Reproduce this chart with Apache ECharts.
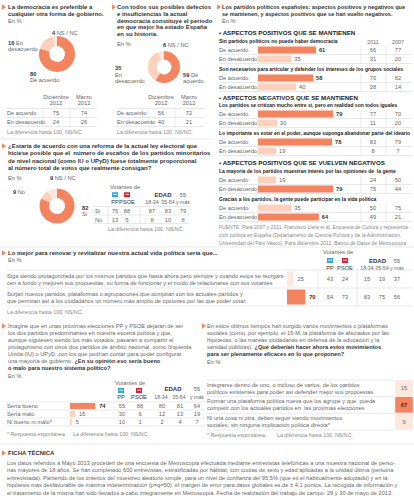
<!DOCTYPE html>
<html><head><meta charset="utf-8">
<script src="https://cdn.jsdelivr.net/npm/echarts@6/dist/echarts.min.js"></script>
<style>html,body{margin:0;padding:0;background:#fff}#c{width:414px;height:498px}</style>
</head><body><div id="c"></div>
<script>
// ---------- DATA ----------
const pieCats = ['De acuerdo', 'En desacuerdo', 'NS / NC'];
const demoPie = [80, 16, 4];
const histPie = [59, 35, 6];
const tableCols = ['Diciembre', 'Marzo'];
const tableYear = ['2012', '2012'];
const tableRows = ['De acuerdo', 'En desacuerdo'];
const demoDec = [75, 24];
const demoMar = [74, 26];
const histDec = [56, 40];
const histMar = [72, 21];

const reformCats = ['Sí', 'No', 'NS / NC'];
const reformPie = [82, 9, 9];
const voterCols = ['PP', 'PSOE'];
const ageCols = ['18-34', '35-54', 'y más'];
const reformRows = ['Sí', 'No'];
const reformPP = [76, 13];
const reformPSOE = [88, 5];
const reform1834 = [87, 8];
const reform3554 = [83, 10];
const reform55 = [79, 8];

const partySections = ['ASPECTOS POSITIVOS QUE SE MANTIENEN', 'ASPECTOS NEGATIVOS QUE SE MANTIENEN', 'ASPECTOS POSITIVOS QUE SE VUELVEN NEGATIVOS'];
const partyQuestions = [
  'Sin partidos políticos no puede haber democracia',
  'Son necesarios para articular y defender los intereses de los grupos sociales',
  'Los partidos se critican mucho entre sí, pero en realidad son todos iguales',
  'Lo importante es estar en el poder, aunque suponga abandonar parte del ideario',
  'La mayoría de los partidos muestran interés por las opiniones de  la gente',
  'Gracias a los partidos, la gente puede participar en la vida política'
];
const partyRows = ['De acuerdo', 'En desacuerdo'];
const partyYears = ['2011', '2007'];
const party2012 = [[61, 35], [58, 40], [79, 20], [78, 19], [19, 79], [35, 64]];
const party2011 = [[66, 31], [70, 28], [77, 11], [83, 8], [24, 75], [50, 49]];
const party2007 = [[77, 20], [82, 14], [70, 20], [79, 7], [50, 44], [75, 21]];

const renewRows = [
  ['Siga siendo protagonizada por los mismos partidos que hasta ahora pero siempre y cuando estos se reorgani-', 'cen a fondo y mejoren sus propuestas, su forma de funcionar y el modo de relacionarse con sus votantes'],
  ['Surjan nuevos partidos, plataformas o agrupaciones que compitan con los actuales partidos y', 'que permitan así a los ciudadanos un número más amplio de opciones por las que poder votar.']
];
const renewTotal = [25, 70];
const renewPP = [43, 54];
const renewPSOE = [24, 73];
const renew1834 = [15, 83];
const renew3554 = [19, 75];
const renew55 = [37, 56];

const imagineRows = ['Sería bueno', 'Sería malo', 'Ni bueno ni malo*'];
const imagineTotal = [74, 15, 5];
const imaginePP = [55, 30, 10];
const imaginePSOE = [88, 6, 1];
const imagine1834 = [80, 12, 2];
const imagine3554 = [81, 13, 4];
const imagine55 = [64, 19, 7];

const movRows = [
  ['Integrarse dentro de uno, o incluso de varios, de los partidos', 'políticos existentes para poder así defender mejor sus propuestas'],
  ['Formar una plataforma política nueva que los agrupe y que  pueda', 'competir con los actuales partidos en  las próximas elecciones'],
  ['Ni una cosa ni otra, deben seguir siendo movimientos', 'sociales, sin ninguna implicación política directa*']
];
const movTotal = [15, 67, 9];

// ---------- STYLE ----------
const FONT = '"Liberation Sans", Arial, sans-serif';
const ORANGE = '#F4845F', LIGHT = '#FBD0BC', PALE = '#FDE8DE';
const BODY = '#666', DARK = '#333', RULE = '#d8d8d8';
const PPC = '#2FA7DB', PSOEC = '#DD2238';

const G = [];
function T(x, y, text, o = {}) {
  const size = o.size || 5.7;
  const style = {
    text, fill: o.fill || BODY, fontSize: size, fontFamily: FONT,
    fontWeight: o.bold ? 'bold' : 'normal', align: o.align || 'left', verticalAlign: 'middle'
  };
  style.rich = {
    b: { fontWeight: 'bold', fontSize: o.bsize || size, fontFamily: FONT, fill: o.bfill || DARK },
    n: { fontWeight: 'normal', fontSize: size, fontFamily: FONT, fill: o.fill || BODY }
  };
  G.push({ type: 'text', x, y, silent: true, style });
}
function L(x1, y1, x2, y2, c) {
  G.push({ type: 'line', silent: true, shape: { x1, y1, x2, y2 }, style: { stroke: c || RULE, lineWidth: 0.6 } });
}
function tri(x, y) {
  G.push({ type: 'polygon', silent: true, shape: { points: [[x, y - 2.8], [x + 4, y], [x, y + 2.8]] }, style: { fill: ORANGE } });
}
function icon(cx, cy, color) {
  G.push({ type: 'rect', silent: true, shape: { x: cx - 3, y: cy - 2.5, width: 6, height: 5 }, style: { fill: color } });
  G.push({ type: 'line', silent: true, shape: { x1: cx - 2, y1: cy - 0.3, x2: cx + 2, y2: cy - 0.3 }, style: { stroke: '#fff', lineWidth: 0.8 } });
}
function lines(x, y0, arr, step, o) { arr.forEach((s, i) => T(x, y0 + i * step, s, o)); }

const grids = [], xAxes = [], yAxes = [], series = [];
function addGrid(left, top, width, height, cats, max) {
  const i = grids.length;
  grids.push({ left, top, width, height, containLabel: false, outerBoundsMode: 'none' });
  xAxes.push({ gridIndex: i, type: 'value', min: 0, max, show: false });
  yAxes.push({ gridIndex: i, type: 'category', data: cats, inverse: true, show: false });
  return i;
}
function addBars(i, vals, barWidth, dist, lightColor) {
  const mx = Math.max(...vals);
  series.push({
    type: 'bar', xAxisIndex: i, yAxisIndex: i, barWidth, silent: true, animation: false,
    label: { show: true, position: 'right', distance: dist, fontSize: 5.7, fontFamily: FONT, color: BODY },
    data: vals.map(v => ({
      value: v,
      itemStyle: { color: v === mx ? ORANGE : (lightColor || LIGHT) },
      label: { fontWeight: v === mx ? 'bold' : 'normal', color: v === mx ? DARK : BODY }
    }))
  });
}
function addPie(center, r, vals, colors) {
  series.push({
    type: 'pie', center, radius: r, startAngle: 90, silent: true, animation: false,
    label: { show: false }, labelLine: { show: false },
    data: vals.map((v, k) => ({ value: v, name: pieCats[k], itemStyle: { color: colors[k] } }))
  });
}

// ---------- PANEL 1 ----------
tri(2, 7);
lines(8, 7, ['La democracia es preferible a', 'cualquier otra forma de gobierno.'], 7, { bold: true, size: 6, fill: DARK });
T(8, 21, 'En %');
addPie([57, 54], [8, 18], demoPie, [ORANGE, LIGHT, PALE]);
T(52, 33, '{b|' + demoPie[2] + '} ' + pieCats[2]);
T(8, 43, '{b|' + demoPie[1] + '} En');
T(8, 49, 'desacuerdo');
T(30, 74, '{b|' + demoPie[0] + '}');
T(30, 80, pieCats[0]);

function smallTable(x0, c1, c2, dec, mar, x1) {
  T(c1, 97, tableCols[0], { align: 'center' }); T(c1, 103, tableYear[0], { align: 'center' });
  T(c2, 97, tableCols[1], { align: 'center' }); T(c2, 103, tableYear[1], { align: 'center' });
  L(x0, 108.5, x1, 108.5); L(x0, 117.5, x1, 117.5); L(x0, 126.5, x1, 126.5);
  L((c1 + c2) / 2, 108.5, (c1 + c2) / 2, 126.5);
  L(c1 - 13, 108.5, c1 - 13, 126.5);
  tableRows.forEach((r, k) => {
    const y = 113 + k * 9;
    T(x0, y, r);
    T(c1, y, String(dec[k]), { align: 'center' });
    T(c2, y, String(mar[k]), { align: 'center' });
  });
  T(x0, 131.5, 'La diferencia hasta 100, NS/NC.', { size: 5.3, fill: '#888' });
}
smallTable(7, 56, 84, demoDec, demoMar, 97);

// ---------- PANEL 2 ----------
tri(112, 7);
lines(117, 7, ['Con todos sus posibles defectos', 'e insuficiencias la actual', 'democracia constituye el periodo', 'en que mejor ha estado España', 'en su historia.'], 6.8, { bold: true, size: 6, fill: DARK });
T(117, 44, 'En %');
addPie([164, 67], [7.5, 16], histPie, [ORANGE, LIGHT, PALE]);
T(163, 45, '{b|' + histPie[2] + '} ' + pieCats[2]);
T(115, 68, '{b|' + histPie[1] + '}');
T(115, 75, 'En');
T(115, 81, 'desacuerdo');
T(183, 75, '{b|' + histPie[0] + '} De');
T(183, 81, 'acuerdo');
smallTable(117, 161, 189, histDec, histMar, 205);

L(0, 139, 212, 139);

// ---------- PANEL 3 ----------
tri(2, 146);
lines(8, 146, ['¿Estaría de acuerdo con una reforma de la actual ley electoral que', 'hiciese posible que el  número de escaños de los partidos minoritarios', 'de nivel nacional (como IU o UPyD) fuese totalmente proporcional', 'al número total de votos que realmente consigan?'], 7.3, { bold: true, size: 6, fill: DARK });
T(8, 178, 'En %');
addPie([57, 206], [8, 17.5], reformPie, [ORANGE, LIGHT, PALE]);
T(50, 178, '{b|' + reformPie[2] + '} ' + reformCats[2]);
T(13, 192, '{b|' + reformPie[1] + '} ' + reformCats[1]);
T(82, 208, '{b|' + reformPie[0] + '}');
T(82, 214, reformCats[0]);

function voterHeader(vx, vy, ppx, psx, ages, edadY, subY) {
  T(vx, vy, 'Votantes de');
  icon(ppx, (vy + subY) / 2 + 0.5, PPC); icon(psx, (vy + subY) / 2 + 0.5, PSOEC);
  T(ppx, subY, voterCols[0], { align: 'center', fill: DARK });
  T(psx, subY, voterCols[1], { align: 'center', fill: DARK });
  T((ages[0] + ages[1]) / 2 + 3, edadY, 'EDAD', { align: 'center', bold: true, fill: DARK, size: 6 });
  T(ages[2], edadY, '55', { align: 'center' });
  ageCols.forEach((a, k) => T(ages[k], subY, a, { align: 'center', size: 5.2 }));
}
function rowVals(y, xs, vals) { xs.forEach((x, k) => T(x, y, String(vals[k]), { align: 'center' })); }

const rX = [115, 127, 152, 168, 183];
voterHeader(110, 187, 115, 127, [152, 168, 183], 195, 201.5);
reformRows.forEach((r, k) => {
  const y = 211 + k * 8.5;
  T(95, y, r);
  rowVals(y, rX, [reformPP[k], reformPSOE[k], reform1834[k], reform3554[k], reform55[k]]);
});
L(93, 206.5, 190, 206.5); L(93, 215, 190, 215); L(93, 223.5, 190, 223.5);
L(108, 206.5, 108, 223.5); L(140, 206.5, 140, 223.5);
T(108, 229, 'La diferencia hasta 100, NS/NC.', { size: 5.3, fill: '#888' });

// ---------- RIGHT PANEL ----------
tri(217, 7);
lines(222, 7, ['Los partidos políticos españoles: aspectos positivos y negativos que', 'se mantienen, y aspectos positivos que se han vuelto negativos.'], 7, { bold: true, size: 5.55, fill: DARK });
T(222, 21, 'En %');
const headerY = [32, 97, 162];
partySections.forEach((s, k) => T(219, headerY[k], '• ' + s, { bold: true, size: 6.2, fill: '#222' }));
const subY = [41, 69, 105, 133, 171, 199];
T(373, 41.5, partyYears[0], { align: 'center', size: 5.3 });
T(398, 41.5, partyYears[1], { align: 'center', size: 5.3 });
partyQuestions.forEach((q, i) => {
  const sy = subY[i];
  T(219, sy, q, { bold: true, size: 5.0, fill: '#222' });
  const gi = addGrid(258, sy + 4.5, 95, 18, partyRows, 100);
  addBars(gi, party2012[i], 7, 3);
  partyRows.forEach((r, k) => {
    const y = sy + 9 + k * 9;
    T(219, y, r);
    T(373, y, String(party2011[i][k]), { align: 'center' });
    T(398, y, String(party2007[i][k]), { align: 'center' });
    L(219, y + 4.5, 412, y + 4.5);
  });
  L(361, sy + 4.5, 361, sy + 22.5); L(386, sy + 4.5, 386, sy + 22.5);
});
lines(219, 227, ['FUENTE: Para 2007 y 2011, Francisco Llera et al. Encuesta de Cultura y representa-', 'ción política en España (Departamento de Ciencia Política y de la Administración,', 'Universidad del País Vasco). Para diciembre 2012, Banco de Datos de Metroscopia.'], 8, { size: 5.05, fill: '#888' });

L(0, 247, 414, 247);

// ---------- RENEW ----------
tri(2, 253);
T(8, 253, 'Lo mejor para renovar y revitalizar nuestra actual vida política sería que...', { bold: true, size: 6, fill: DARK });
T(8, 260, 'En %');
voterHeader(323, 252, 330, 345, [367, 382, 397], 261, 268);
const rwX = [330, 345, 367, 382, 397];
renewRows.forEach((r, k) => {
  const yc = 279 + k * 18;
  T(7, yc - 3.5, r[0]); T(7, yc + 3.5, r[1]);
  rowVals(yc, rwX, [renewPP[k], renewPSOE[k], renew1834[k], renew3554[k], renew55[k]]);
});
L(7, 270, 412, 270); L(7, 288, 412, 288); L(7, 306, 412, 306);
L(318, 270, 318, 306); L(357, 270, 357, 306);
const rg = addGrid(287, 270, 26, 36, renewRows.map((r, k) => 'r' + k), 100);
addBars(rg, renewTotal, 15, 4, PALE);
T(7, 312, 'La diferencia hasta 100, NS/NC.', { size: 5.3, fill: '#888' });

// ---------- IMAGINE ----------
tri(2, 326);
lines(8, 326, ['Imagine que en unas próximas elecciones PP y PSOE dejaran de ser', 'los dos partidos predominantes en nuestra escena política y que,', 'aunque siguiesen siendo los más votados, pasaran a compartir el', 'protagonismo con otros dos partidos de ámbito nacional, como Izquierda', 'Unida (IU) o UPyD, con los que podrían contar para poder configurar'], 7);
T(8, 361, 'una mayoría de gobierno. {b|¿En su opinión eso sería bueno}');
T(8, 368, 'o malo para nuestro sistema político?', { bold: true, fill: DARK });
T(8, 376, 'En %');
voterHeader(115, 383, 121, 139, [161, 179, 197], 389, 397);
const imX = [122, 140, 162, 180, 197];
imagineRows.forEach((r, k) => {
  const y = 406 + k * 8;
  T(7, y, r);
  rowVals(y, imX, [imaginePP[k], imaginePSOE[k], imagine1834[k], imagine3554[k], imagine55[k]]);
  L(7, y + 4, 205, y + 4);
});
L(7, 402, 205, 402);
const ig = addGrid(70, 402, 34, 24, imagineRows, 100);
addBars(ig, imagineTotal, 6, 4);
T(7, 434, '* Respuesta espontánea', { size: 5.3, fill: '#888' });
T(73, 434, 'La diferencia hasta 100, NS/NC.', { size: 5.3, fill: '#888' });

// ---------- MOVEMENTS ----------
tri(202, 326);
lines(207, 326, ['En estos últimos tiempos han surgido varios movimientos o plataformas', 'sociales (como, por ejemplo, el 15-M, la plataforma de afectados por las', 'hipotecas, o las mareas ciudadanas en defensa de la educación y la'], 7);
T(207, 347, 'sanidad públicas). {b|¿Qué deberían hacer ahora estos movimientos}');
T(207, 354, 'para ser plenamente eficaces en lo que proponen?', { bold: true, fill: DARK });
T(207, 362, 'En %');
movRows.forEach((r, k) => {
  const yc = 388.3 + k * 16.67;
  T(207, yc - 3.5, r[0]); T(207, yc + 3.5, r[1]);
});
L(207, 380, 395, 380); L(207, 396.7, 395, 396.7); L(207, 413.3, 395, 413.3); L(207, 430, 395, 430);
const mg = grids.length;
grids.push({ left: 395, top: 380, width: 18, height: 50, outerBoundsMode: 'none' });
xAxes.push({ gridIndex: mg, type: 'category', data: ['Total'], show: false });
yAxes.push({ gridIndex: mg, type: 'category', data: movRows.map((r, k) => 'm' + k), inverse: true, show: false });
const heatIndex = series.length;
series.push({
  type: 'heatmap', xAxisIndex: mg, yAxisIndex: mg, silent: true, animation: false,
  itemStyle: { borderColor: '#fff', borderWidth: 0.8 },
  label: { show: true, fontSize: 5.7, fontFamily: FONT, color: BODY },
  data: movTotal.map((v, k) => ({ value: [0, k, v], label: { fontWeight: v === Math.max(...movTotal) ? 'bold' : 'normal', color: v === Math.max(...movTotal) ? DARK : BODY } }))
});
T(207, 435, '* Respuesta espontánea.', { size: 5.3, fill: '#888' });
T(277, 435, 'La diferencia hasta 100, NS/NC.', { size: 5.3, fill: '#888' });

// ---------- FICHA ----------
L(0, 444, 414, 444);
tri(2, 453);
T(8, 453, 'FICHA TÉCNICA', { bold: true, size: 6, fill: DARK });
lines(7, 462.5, [
  'Los datos referidos a Mayo 2013 proceden de una encuesta de Metroscopia efectuada mediante entrevistas telefónicas a una muestra nacional de perso-',
  'nas mayores de 18 años. Se han completado 600 entrevistas, estratificadas por hábitat, con cuotas de sexo y edad aplicadas a la unidad última (persona',
  'entrevistada). Partiendo de los criterios del muestreo aleatorio simple, para un nivel de confianza del 95,5% (que es el habitualmente adoptado) y en la',
  'hipótesis más desfavorable de máxima indeterminación (p=q=50), el margen de error para datos globales es de ± 4.1 puntos. La recogida de información y',
  'el tratamiento de la misma han sido llevados a cabo íntegramente en Metroscopia. Fecha de realización del trabajo de campo: 29 y 30 de mayo de 2013.'
], 7.6);

const chart = echarts.init(document.getElementById('c'), null, { renderer: 'svg', width: 414, height: 498 });
chart.setOption({
  animation: false,
  grid: grids, xAxis: xAxes, yAxis: yAxes,
  visualMap: [{ show: false, type: 'piecewise', seriesIndex: heatIndex, dimension: 2, pieces: [{ gte: 50, color: ORANGE }, { lt: 50, color: PALE }] }],
  series,
  graphic: { elements: G }
});
</script></body></html>
